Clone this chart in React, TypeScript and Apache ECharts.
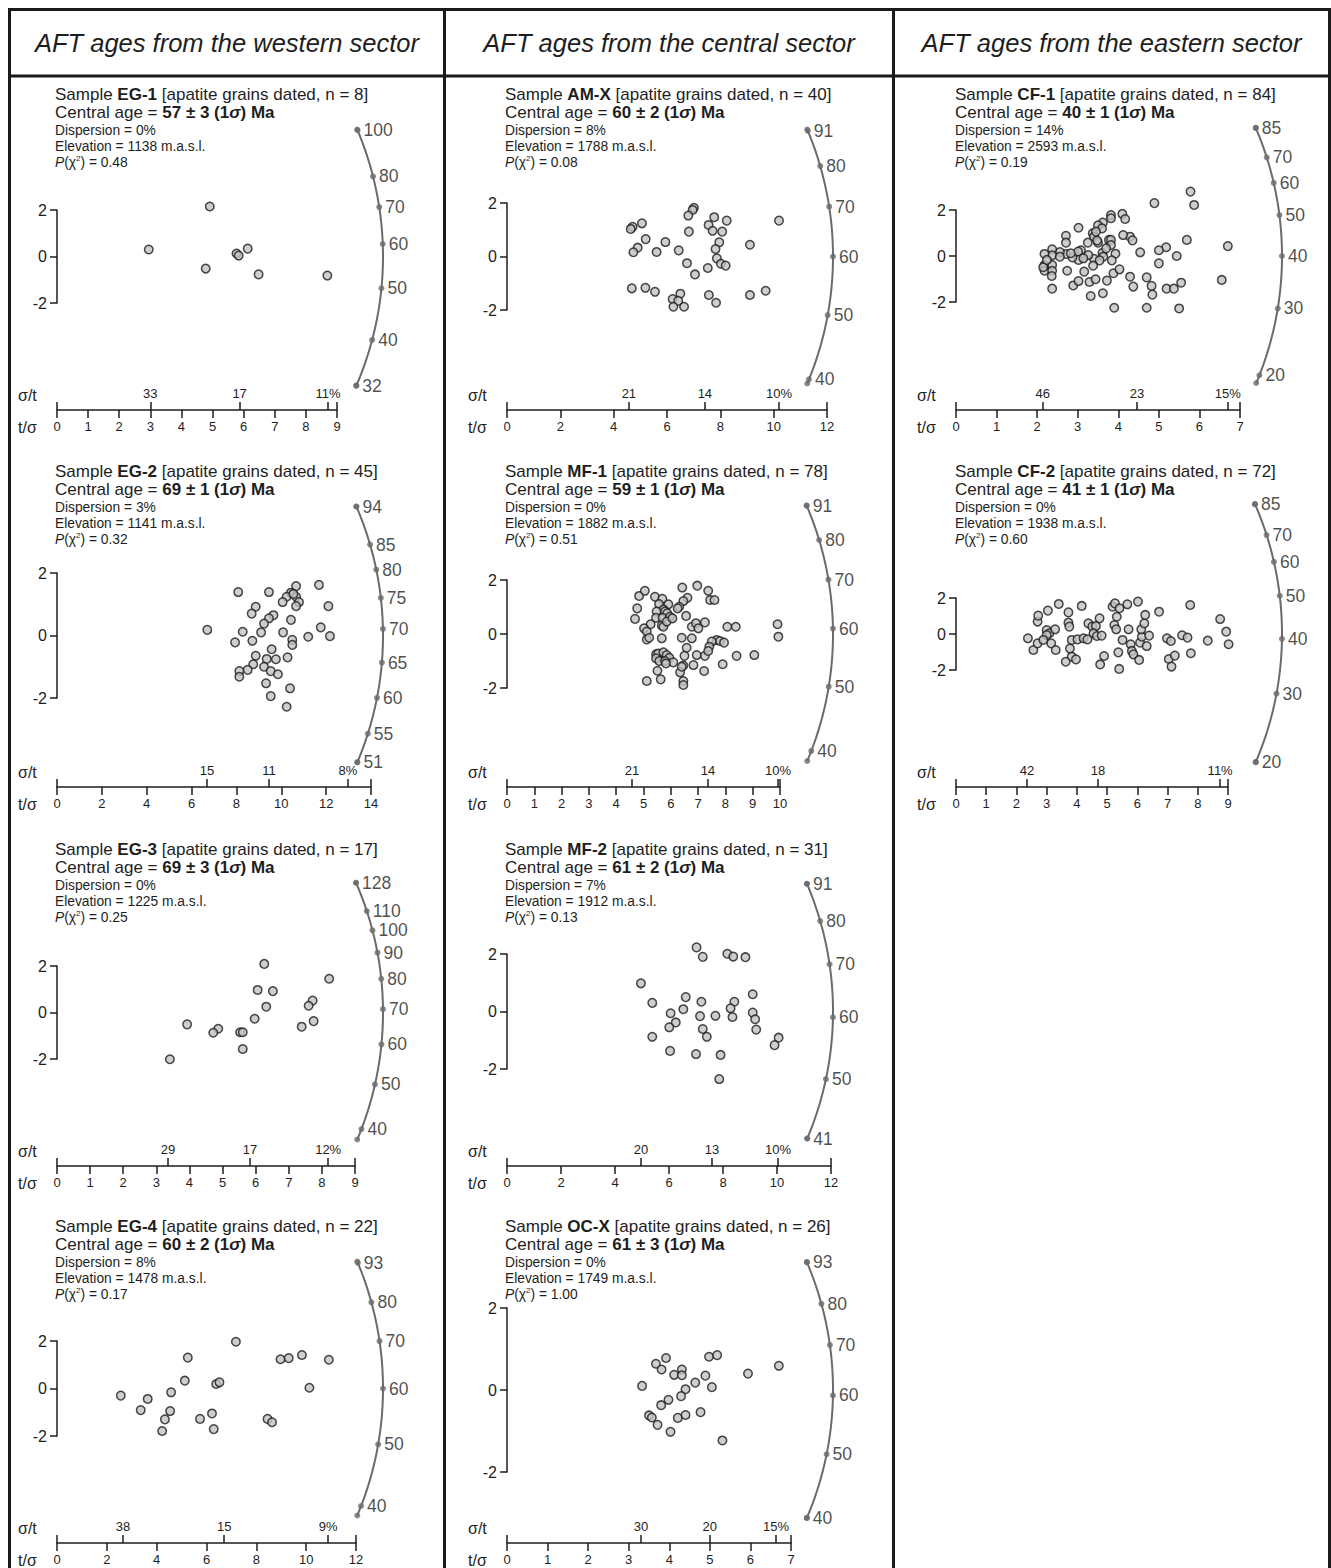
import React, { useEffect, useRef } from "react";
import * as echarts from "echarts";

// ---------------- DATA ----------------
const SECTOR_TITLES = [
  "AFT ages from the western sector",
  "AFT ages from the central sector",
  "AFT ages from the eastern sector",
];

const SAMPLE_NAMES = ["EG-1", "EG-2", "EG-3", "EG-4", "AM-X", "MF-1", "MF-2", "OC-X", "CF-1", "CF-2"];
const GRAIN_COUNTS = [8, 45, 17, 22, 40, 78, 31, 26, 84, 72];
const CENTRAL_AGES = [57, 69, 69, 60, 60, 59, 61, 61, 40, 41];
const AGE_ERRORS = [3, 1, 3, 2, 2, 1, 2, 3, 1, 1];
const DISPERSIONS = [0, 3, 0, 8, 8, 0, 7, 0, 14, 0];
const ELEVATIONS = [1138, 1141, 1225, 1478, 1788, 1882, 1912, 1749, 2593, 1938];
const P_CHI2 = ["0.48", "0.32", "0.25", "0.17", "0.08", "0.51", "0.13", "1.00", "0.19", "0.60"];

const X_MAX = [9, 14, 9, 12, 12, 10, 12, 7, 7, 9];
const X_STEP = [1, 2, 1, 2, 2, 1, 2, 1, 1, 1];

const ARC_TICKS = [
  [100, 80, 70, 60, 50, 40, 32],
  [94, 85, 80, 75, 70, 65, 60, 55, 51],
  [128, 110, 100, 90, 80, 70, 60, 50, 40],
  [93, 80, 70, 60, 50, 40],
  [91, 80, 70, 60, 50, 40],
  [91, 80, 70, 60, 50, 40],
  [91, 80, 70, 60, 50, 41],
  [93, 80, 70, 60, 50, 40],
  [85, 70, 60, 50, 40, 30, 20],
  [85, 70, 60, 50, 40, 30, 20],
];

const SIGMA_TICK_POS = [
  [3.0, 5.87, 8.71],
  [6.69, 9.45, 12.97],
  [3.35, 5.83, 8.19],
  [2.65, 6.71, 10.88],
  [4.57, 7.42, 10.2],
  [4.58, 7.36, 9.93],
  [4.96, 7.59, 10.04],
  [3.3, 5.0, 6.63],
  [2.14, 4.46, 6.7],
  [2.35, 4.7, 8.74],
];
const SIGMA_TICK_LABELS = [
  ["33", "17", "11%"],
  ["15", "11", "8%"],
  ["29", "17", "12%"],
  ["38", "15", "9%"],
  ["21", "14", "10%"],
  ["21", "14", "10%"],
  ["20", "13", "10%"],
  ["30", "20", "15%"],
  ["46", "23", "15%"],
  ["42", "18", "11%"],
];

const POINTS_EG1 = [[2.95, 0.3], [4.91, 2.15], [4.78, -0.52], [5.77, 0.13], [5.84, 0.04], [6.13, 0.34], [6.48, -0.77], [8.69, -0.82]];
const POINTS_EG2 = [[6.7, 0.18], [8.08, 1.39], [9.45, 1.39], [10.66, 1.58], [11.68, 1.62], [10.43, 1.37], [10.24, 1.24], [10.06, 1.07], [10.66, 1.24], [10.79, 1.07], [10.66, 0.94], [12.1, 0.94], [8.86, 0.92], [8.68, 0.7], [9.65, 0.65], [9.45, 0.55], [9.23, 0.38], [9.1, 0.1], [8.28, 0.12], [10.43, 0.5], [10.08, 0.1], [11.76, 0.26], [12.17, -0.02], [11.2, -0.04], [7.94, -0.22], [8.71, -0.17], [10.49, -0.14], [10.49, -0.3], [9.57, -0.44], [8.86, -0.65], [9.35, -0.75], [9.76, -0.76], [10.28, -0.7], [8.75, -0.92], [9.23, -1.0], [9.53, -1.14], [9.85, -1.24], [8.5, -1.1], [8.13, -1.14], [8.13, -1.32], [9.32, -1.53], [10.39, -1.69], [9.53, -1.94], [10.24, -2.28], [10.54, 1.33]];
const POINTS_EG3 = [[6.26, 2.09], [8.22, 1.45], [6.06, 0.97], [6.52, 0.92], [6.32, 0.25], [7.72, 0.51], [7.6, 0.29], [5.97, -0.27], [7.75, -0.37], [7.39, -0.61], [3.93, -0.51], [4.87, -0.7], [4.72, -0.87], [5.53, -0.85], [5.61, -0.85], [5.61, -1.57], [3.41, -2.01]];
const POINTS_EG4 = [[7.18, 1.97], [5.25, 1.3], [8.97, 1.23], [9.3, 1.28], [9.83, 1.41], [10.91, 1.21], [5.13, 0.33], [6.39, 0.19], [6.52, 0.26], [10.13, 0.03], [4.58, -0.16], [2.56, -0.3], [3.64, -0.44], [3.36, -0.91], [4.54, -0.95], [4.33, -1.3], [4.22, -1.79], [6.22, -1.05], [5.74, -1.28], [6.29, -1.71], [8.45, -1.28], [8.63, -1.42]];
const POINTS_AMX = [[7.01, 1.82], [6.96, 1.74], [6.8, 1.53], [5.06, 1.24], [4.71, 1.11], [4.64, 1.03], [7.77, 1.47], [8.24, 1.34], [10.2, 1.34], [7.56, 1.18], [7.71, 0.96], [8.07, 0.93], [6.82, 0.93], [5.2, 0.65], [5.94, 0.54], [4.9, 0.33], [4.74, 0.16], [5.61, 0.17], [6.44, 0.23], [7.96, 0.53], [7.82, 0.28], [9.11, 0.44], [7.87, -0.07], [8.02, -0.27], [8.2, -0.34], [6.75, -0.25], [7.53, -0.43], [7.05, -0.67], [4.68, -1.19], [5.19, -1.17], [5.55, -1.32], [6.5, -1.39], [6.21, -1.59], [6.42, -1.66], [6.24, -1.88], [6.64, -1.88], [7.57, -1.44], [7.84, -1.73], [9.11, -1.44], [9.7, -1.28]];
const POINTS_MF1 = [[6.42, 1.72], [6.97, 1.79], [7.37, 1.6], [4.84, 1.41], [5.05, 1.6], [5.42, 1.38], [5.69, 1.3], [6.61, 1.34], [6.46, 1.22], [7.44, 1.26], [7.6, 1.26], [5.57, 1.11], [5.91, 1.1], [6.31, 1.01], [6.25, 0.95], [4.77, 0.95], [5.73, 0.91], [5.48, 0.83], [5.79, 0.83], [5.87, 0.77], [4.69, 0.56], [5.46, 0.6], [5.7, 0.6], [5.97, 0.64], [6.56, 0.67], [5.26, 0.36], [5.02, 0.21], [5.12, 0.09], [5.67, 0.31], [5.73, 0.27], [5.85, 0.46], [6.06, 0.58], [6.77, 0.27], [6.92, 0.4], [7.25, 0.43], [7.01, 0.21], [8.07, 0.27], [8.38, 0.27], [9.91, 0.36], [9.94, -0.1], [5.12, -0.2], [5.21, -0.14], [5.67, -0.16], [6.4, -0.14], [6.77, -0.16], [7.68, -0.22], [7.8, -0.26], [7.95, -0.32], [7.5, -0.28], [7.41, -0.47], [6.58, -0.51], [5.46, -0.75], [5.54, -0.72], [5.73, -0.68], [5.85, -0.78], [5.95, -0.88], [5.46, -0.9], [5.58, -1.0], [5.79, -1.0], [6.09, -1.05], [6.5, -0.81], [6.95, -0.78], [7.25, -0.81], [7.37, -0.63], [8.41, -0.81], [9.06, -0.78], [6.46, -1.17], [6.83, -1.15], [7.9, -1.12], [5.51, -1.36], [6.34, -1.42], [6.4, -1.21], [7.22, -1.37], [5.12, -1.74], [5.63, -1.68], [6.46, -1.74], [6.46, -1.89], [5.82, -1.09]];
const POINTS_MF2 = [[7.02, 2.23], [7.25, 1.9], [8.16, 2.01], [8.38, 1.91], [8.83, 1.89], [4.96, 0.98], [5.38, 0.3], [6.62, 0.5], [7.2, 0.34], [8.42, 0.34], [9.1, 0.6], [6.53, 0.08], [6.06, -0.06], [8.28, 0.11], [7.15, -0.16], [7.72, -0.15], [8.35, -0.19], [9.1, -0.04], [9.19, -0.27], [6.25, -0.38], [6.01, -0.55], [7.25, -0.61], [7.4, -0.88], [9.23, -0.63], [5.38, -0.88], [10.06, -0.91], [9.91, -1.17], [6.04, -1.37], [7.0, -1.48], [7.91, -1.51], [7.86, -2.35]];
const POINTS_OCX = [[3.92, 0.78], [3.67, 0.64], [3.81, 0.5], [4.98, 0.81], [5.18, 0.85], [6.7, 0.59], [4.12, 0.37], [4.31, 0.5], [4.31, 0.36], [5.94, 0.4], [4.89, 0.35], [3.33, 0.1], [4.64, 0.18], [5.05, 0.07], [4.4, 0.02], [4.29, -0.15], [3.98, -0.24], [3.8, -0.37], [3.5, -0.62], [3.57, -0.67], [3.71, -0.85], [4.21, -0.68], [4.4, -0.61], [4.77, -0.54], [4.03, -1.02], [5.31, -1.23]];
const POINTS_CF1 = [[5.78, 2.8], [5.87, 2.22], [4.89, 2.3], [6.7, 0.43], [6.55, -1.04], [4.1, 1.83], [4.17, 1.61], [3.82, 1.78], [3.82, 1.64], [3.62, 1.45], [3.5, 1.33], [3.6, 1.2], [3.02, 1.23], [3.37, 0.99], [3.4, 0.84], [2.71, 0.88], [2.71, 0.58], [3.25, 0.58], [3.5, 0.58], [3.77, 0.7], [3.82, 0.7], [3.82, 0.48], [4.29, 0.84], [4.35, 0.68], [5.69, 0.7], [5.18, 0.38], [5.0, 0.25], [4.54, 0.16], [5.44, 0.0], [5.0, -0.32], [3.93, 0.1], [3.61, 0.14], [3.63, -0.03], [3.4, -0.12], [3.54, -0.19], [3.84, -0.19], [3.38, -0.42], [3.26, 0.04], [3.08, 0.25], [3.01, 0.19], [3.02, -0.17], [2.87, -0.06], [2.71, 0.09], [2.56, 0.17], [2.37, 0.29], [2.37, 0.03], [2.18, 0.09], [2.18, -0.39], [2.18, -0.64], [2.37, -0.39], [2.37, -0.64], [2.36, -0.87], [2.37, -1.42], [2.74, -0.64], [3.16, -0.68], [2.89, -1.28], [3.02, -1.09], [3.29, -1.13], [3.44, -1.01], [3.32, -1.74], [3.62, -1.62], [3.72, -1.07], [3.88, -0.75], [4.03, -0.58], [4.29, -0.9], [4.37, -1.33], [4.7, -0.93], [4.82, -1.3], [4.84, -1.68], [5.19, -1.42], [5.37, -1.42], [5.55, -1.16], [3.9, -2.25], [4.7, -2.25], [5.5, -2.28], [2.15, -0.49], [3.48, 0.67], [3.7, 0.33], [2.83, 0.12], [3.14, -0.1], [2.56, -0.03], [4.12, 0.91], [2.24, -0.17], [3.45, 1.06]];
const POINTS_CF2 = [[2.38, -0.24], [2.56, -0.89], [2.7, -0.52], [2.7, 0.69], [2.72, 1.02], [3.04, 1.3], [3.4, 1.67], [3.72, 1.2], [4.16, 1.56], [3.0, 0.22], [3.09, 0.04], [3.0, -0.06], [2.89, -0.33], [3.28, 0.26], [3.15, -0.52], [3.3, -0.89], [3.72, 0.63], [3.75, 0.41], [3.83, -0.33], [4.02, -0.3], [4.22, -0.24], [4.35, -0.3], [4.38, 0.59], [4.51, 0.41], [4.63, 0.44], [4.75, 0.87], [4.55, 0.04], [4.66, -0.11], [4.82, -0.09], [3.77, -0.81], [3.83, -1.26], [3.97, -1.41], [3.63, -1.54], [4.9, -1.22], [4.77, -1.69], [5.18, 1.52], [5.26, 1.7], [5.41, 1.43], [5.67, 1.65], [6.02, 1.8], [5.32, 0.96], [5.24, 0.5], [5.3, 0.26], [5.71, 0.26], [5.51, -0.33], [5.37, -1.02], [5.4, -1.94], [5.78, -0.57], [5.82, -0.94], [5.87, -1.13], [6.06, -1.44], [6.09, -0.48], [6.15, -0.15], [6.13, 0.26], [6.23, 0.59], [6.26, 1.06], [6.39, -0.09], [6.31, -0.67], [6.72, 1.24], [6.98, -0.24], [7.11, -0.39], [7.48, -0.07], [7.66, -0.2], [7.04, -1.39], [7.24, -1.2], [7.13, -1.81], [7.75, 1.61], [7.77, -1.07], [8.33, -0.37], [8.74, 0.83], [8.94, 0.13], [9.02, -0.57]];

const PANEL_POINTS = [POINTS_EG1, POINTS_EG2, POINTS_EG3, POINTS_EG4, POINTS_AMX, POINTS_MF1, POINTS_MF2, POINTS_OCX, POINTS_CF1, POINTS_CF2];

// ---------------- LAYOUT / STYLE ----------------
const FONT = '"Liberation Sans", Arial, Helvetica, sans-serif';
const INK = "#1e1e1e";
const ARC_COLOR = "#6b6b6b";
const ARC_RADIUS = 326;
const ARC_HALF_SPAN = 127;

const LAYOUT = [
  { left: 57, top: 210, width: 280, height: 93, axisY: 410, tx: 55, ty: 94 },
  { left: 57, top: 573, width: 314, height: 125, axisY: 787, tx: 55, ty: 471 },
  { left: 57, top: 966, width: 298, height: 93, axisY: 1166, tx: 55, ty: 849 },
  { left: 57, top: 1341, width: 299, height: 95, axisY: 1543, tx: 55, ty: 1226 },
  { left: 507, top: 203, width: 320, height: 107, axisY: 410, tx: 505, ty: 94 },
  { left: 507, top: 580, width: 273, height: 108, axisY: 787, tx: 505, ty: 471 },
  { left: 507, top: 954, width: 324, height: 115, axisY: 1166, tx: 505, ty: 849 },
  { left: 507, top: 1308, width: 284, height: 164, axisY: 1543, tx: 505, ty: 1226 },
  { left: 956, top: 210, width: 284, height: 92, axisY: 410, tx: 955, ty: 94 },
  { left: 956, top: 598, width: 272, height: 72, axisY: 787, tx: 955, ty: 471 },
];

function scales(i: number) {
  const L = LAYOUT[i];
  return { sx: L.width / X_MAX[i], sy: L.height / 4 };
}
function ageAngle(i: number, t: number) {
  const { sx, sy } = scales(i);
  return Math.atan2(sy * Math.log(t / CENTRAL_AGES[i]), sx);
}
function angleToData(i: number, a: number) {
  const { sx, sy } = scales(i);
  return [(ARC_RADIUS * Math.cos(a)) / sx, (ARC_RADIUS * Math.sin(a)) / sy];
}

function buildOption() {
  const grid: any[] = [];
  const xAxis: any[] = [];
  const yAxis: any[] = [];
  const series: any[] = [];
  const graphic: any[] = [];
  const lineStyle = { color: INK, width: 1.5 };

  SAMPLE_NAMES.forEach((name, i) => {
    const L = LAYOUT[i];
    const offset = L.axisY - (L.top + L.height);
    grid.push({ left: L.left, top: L.top, width: L.width, height: L.height, containLabel: false, outerBoundsMode: "none" });

    xAxis.push({
      gridIndex: i, type: "value", min: 0, max: X_MAX[i], interval: X_STEP[i],
      position: "bottom", offset,
      axisLine: { show: true, onZero: false, lineStyle },
      axisTick: { show: true, length: 8, lineStyle },
      axisLabel: { show: true, fontSize: 13, color: INK, fontFamily: FONT, margin: 10 },
      splitLine: { show: false },
    });
    const pos = SIGMA_TICK_POS[i];
    const labs = SIGMA_TICK_LABELS[i];
    xAxis.push({
      gridIndex: i, type: "value", min: 0, max: X_MAX[i],
      position: "bottom", offset,
      axisLine: { show: false, onZero: false },
      axisTick: { show: true, inside: true, length: 8, lineStyle, customValues: [0, ...pos, X_MAX[i]] },
      axisLabel: {
        show: true, inside: true, customValues: pos, fontSize: 13, color: INK, fontFamily: FONT, margin: 10,
        formatter: (v: number) => {
          let best = 0;
          pos.forEach((p, k) => { if (Math.abs(p - v) < Math.abs(pos[best] - v)) best = k; });
          return labs[best];
        },
      },
      splitLine: { show: false },
    });
    yAxis.push({
      gridIndex: i, type: "value", min: -2, max: 2, interval: 2, position: "left",
      axisLine: { show: true, onZero: false, lineStyle },
      axisTick: { show: true, length: 7, lineStyle },
      axisLabel: { show: true, fontSize: 16, color: INK, fontFamily: FONT, margin: 10 },
      splitLine: { show: false },
    });

    // arc (age scale)
    const tickAngles = ARC_TICKS[i].map((t) => ageAngle(i, t));
    const aSpan = Math.asin(ARC_HALF_SPAN / ARC_RADIUS);
    const aMax = Math.max(aSpan, ...tickAngles);
    const aMin = Math.min(-aSpan, ...tickAngles);
    const arc: number[][] = [];
    const N = 90;
    for (let k = 0; k <= N; k++) arc.push(angleToData(i, aMin + ((aMax - aMin) * k) / N));
    series.push({
      type: "custom", xAxisIndex: 2 * i, yAxisIndex: i, data: [[0, 0]], clip: false, silent: true, z: 2,
      renderItem: (_params: any, api: any) => ({
        type: "polyline",
        shape: { points: arc.map((p) => api.coord(p)) },
        style: { stroke: ARC_COLOR, lineWidth: 2, fill: null },
      }),
    });
    const tickData = ARC_TICKS[i].map((t, k) => {
      const d = angleToData(i, tickAngles[k]);
      return [d[0], d[1], t];
    });
    const ends = [angleToData(i, aMin), angleToData(i, aMax)].map((d) => [d[0], d[1], ""]);
    series.push({
      type: "scatter", xAxisIndex: 2 * i, yAxisIndex: i, data: [...tickData, ...ends], symbolSize: 6, clip: false,
      silent: true, itemStyle: { color: ARC_COLOR }, z: 3,
      label: {
        show: true, position: "right", distance: 3, fontSize: 17.5, color: INK, fontFamily: FONT,
        formatter: (p: any) => String(p.value[2]),
      },
    });

    // grain points
    series.push({
      type: "scatter", xAxisIndex: 2 * i, yAxisIndex: i, data: PANEL_POINTS[i], symbol: "circle", symbolSize: 8.5,
      clip: false, itemStyle: { color: "#c2c2c2", borderColor: "#1a1a1a", borderWidth: 1.5 }, z: 4,
    });

    // texts
    const bigRich = {
      b: { fontWeight: "bold", fontSize: 17, fontFamily: FONT, fill: INK, color: INK },
      bi: { fontWeight: "bold", fontStyle: "italic", fontSize: 17, fontFamily: FONT, fill: INK, color: INK },
    };
    const small = 13.8;
    const smallRich = {
      i: { fontStyle: "italic", fontSize: small, fontFamily: FONT, fill: INK, color: INK },
      sup: { fontSize: 8, fontFamily: FONT, fill: INK, color: INK, padding: [0, 0, 7, 0] },
    };
    const mk = (y: number, text: string, size: number, rich: any) => ({
      type: "text", x: L.tx, y,
      style: { text, fontSize: size, fontFamily: FONT, fill: INK, verticalAlign: "middle", align: "left", rich },
      silent: true,
    });
    graphic.push(mk(L.ty, `Sample {b|${name}} [apatite grains dated, n = ${GRAIN_COUNTS[i]}]`, 17, bigRich));
    graphic.push(mk(L.ty + 18, `Central age = {b|${CENTRAL_AGES[i]} ± ${AGE_ERRORS[i]} (1}{bi|σ}{b|) Ma}`, 17, bigRich));
    graphic.push(mk(L.ty + 36, `Dispersion = ${DISPERSIONS[i]}%`, small, smallRich));
    graphic.push(mk(L.ty + 52, `Elevation = ${ELEVATIONS[i]} m.a.s.l.`, small, smallRich));
    graphic.push(mk(L.ty + 68, `{i|P}(χ{sup|2}) = ${P_CHI2[i]}`, small, smallRich));

    // axis names
    graphic.push({
      type: "text", x: L.left - 39, y: L.axisY - 15, silent: true,
      style: { text: "σ/t", fontSize: 16, fontFamily: FONT, fill: INK, verticalAlign: "middle" },
    });
    graphic.push({
      type: "text", x: L.left - 39, y: L.axisY + 17, silent: true,
      style: { text: "t/σ", fontSize: 16, fontFamily: FONT, fill: INK, verticalAlign: "middle" },
    });
  });

  // frame
  const frame = { stroke: "#1a1a1a", lineWidth: 3 };
  const hLine = (y: number) => ({ type: "line", silent: true, shape: { x1: 8, y1: y, x2: 1331, y2: y }, style: frame });
  const vLine = (x: number) => ({ type: "line", silent: true, shape: { x1: x, y1: 8, x2: x, y2: 1568 }, style: frame });
  graphic.push(hLine(9.5), hLine(76), vLine(9.5), vLine(444.5), vLine(893.5), vLine(1329.5));
  const centers = [227, 669, 1111.5];
  SECTOR_TITLES.forEach((t, c) => {
    graphic.push({
      type: "text", x: centers[c], y: 43, silent: true,
      style: { text: t, fontSize: 25.5, fontStyle: "italic", fontFamily: FONT, fill: INK, align: "center", verticalAlign: "middle" },
    });
  });

  return {
    animation: false,
    backgroundColor: "#ffffff",
    textStyle: { fontFamily: FONT },
    grid, xAxis, yAxis, series, graphic,
  };
}

export default function App() {
  const ref = useRef<HTMLDivElement>(null);
  useEffect(() => {
    if (!ref.current) return;
    const chart = echarts.init(ref.current, null, { renderer: "svg" });
    chart.setOption(buildOption() as any);
    return () => chart.dispose();
  }, []);
  return (
    <div
      ref={ref}
      style={{ position: "fixed", left: 0, top: 0, width: 1331, height: 1568, background: "#ffffff" }}
    />
  );
}
